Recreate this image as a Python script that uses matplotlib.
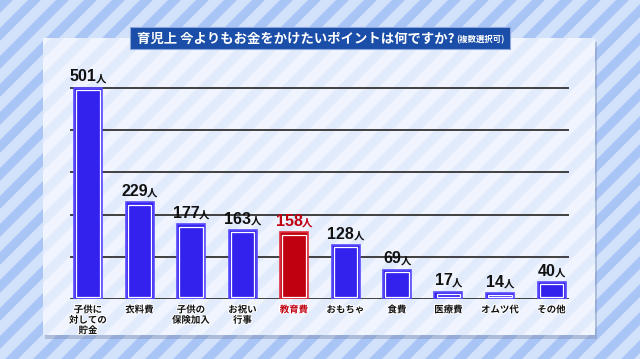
import matplotlib
matplotlib.use("Agg")
import matplotlib.pyplot as plt
import matplotlib.patheffects as pe
from matplotlib.patches import Rectangle, Polygon
from matplotlib.offsetbox import TextArea, HPacker, AnnotationBbox

plt.rcParams["font.family"] = ["Noto Sans CJK JP", "DejaVu Sans"]

# データ
categories = ["子供に\n対しての\n貯金", "衣料費", "子供の\n保険加入", "お祝い\n行事", "教育費",
              "おもちゃ", "食費", "医療費", "オムツ代", "その他"]
values = [501, 229, 177, 163, 158, 128, 69, 17, 14, 40]
highlight = "教育費"
grid_values = [0, 100, 200, 300, 400, 500]
title_main = "育児上 今よりもお金をかけたいポイントは何ですか?"
title_sub = "(複数選択可)"
unit = "人"

W, H = 640, 359
BLUE = "#3322ee"
BLUE_EDGE = "#5a4cff"
RED = "#c00010"
RED_EDGE = "#e03040"


def stripes(ax, x0, y0, x1, y1, period, width, color, offset=0.0, zorder=1):
    # 右上がりの斜めストライプを矩形内に描く
    h = y1 - y0
    clip = Rectangle((x0, y0), x1 - x0, h, transform=ax.transData)
    k = x0 - h - period + offset
    while k < x1 + period:
        poly = Polygon([(k, y1), (k + width, y1), (k + width + h, y0), (k + h, y0)],
                       closed=True, facecolor=color, edgecolor="none", zorder=zorder)
        ax.add_patch(poly)
        poly.set_clip_path(clip)
        k += period


fig = plt.figure(figsize=(W / 100, H / 100), dpi=100)
bg = fig.add_axes([0, 0, 1, 1])
bg.set_xlim(0, W)
bg.set_ylim(H, 0)
bg.set_axis_off()

# 背景
bg.add_patch(Rectangle((0, 0), W, H, facecolor="#d3e2fb", edgecolor="none", zorder=0))
stripes(bg, 0, 0, W, H, 28, 13, "#a9c5f6", zorder=1)

# パネル（影つき）
px0, py0, px1, py1 = 43, 38, 595, 335
bg.add_patch(Rectangle((px0 + 2, py0 + 4), px1 - px0, py1 - py0, facecolor="#7f8fb0",
                       edgecolor="none", alpha=0.45, zorder=2))
bg.add_patch(Rectangle((px0, py0), px1 - px0, py1 - py0, facecolor="#eff4fe",
                       edgecolor="none", zorder=3))
stripes(bg, px0, py0, px1, py1, 28, 13, "#e2ebfc", offset=8, zorder=4)

# タイトル
bg.add_patch(Rectangle((131, 28), 380, 22, facecolor="#0d2a6a", edgecolor="none", zorder=5))
bg.add_patch(Rectangle((130, 27), 380, 22, facecolor="#1b4ea8", edgecolor="#8aa6dc",
                       linewidth=0.8, zorder=6))
t_main = TextArea(title_main, textprops=dict(color="white", fontsize=9.6, fontweight="bold"))
t_sub = TextArea(title_sub, textprops=dict(color="white", fontsize=6, fontweight="bold"))
tbox = HPacker(children=[t_main, t_sub], align="baseline", pad=0, sep=1)
bg.add_artist(AnnotationBbox(tbox, (137, 38.5), xycoords="data", box_alignment=(0, 0.5),
                             frameon=False, pad=0, zorder=7))

# グラフ
spacing = 51.5
base_y = 299
px_per_unit = (299 - 88) / 500
ax_left, ax_right = 70, 569
y_top_val = 550
ax_top = base_y - y_top_val * px_per_unit
ax = fig.add_axes([ax_left / W, (H - base_y) / H, (ax_right - ax_left) / W, (base_y - ax_top) / H])
ax.set_xlim((ax_left - 88) / spacing, (ax_right - 88) / spacing)
ax.set_ylim(0, y_top_val)
ax.patch.set_alpha(0)
ax.set_axis_off()

for g in grid_values:
    ax.axhline(g, color="#333333", linewidth=1.3, zorder=1)

bar_w = 28 / spacing
dx = 2.2 / spacing
dy = 2.2 / px_per_unit
for i, (cat, v) in enumerate(zip(categories, values)):
    hl = cat == highlight
    fc = RED if hl else BLUE
    ec = RED_EDGE if hl else BLUE_EDGE
    ax.bar(i, v, width=bar_w, color=fc, edgecolor=ec, linewidth=1.2, zorder=3)
    ax.add_patch(Rectangle((i - bar_w / 2 + dx, dy), bar_w - 2 * dx, max(v - 2 * dy, 0.5),
                           facecolor=fc, edgecolor="white", linewidth=0.9, zorder=4))
    col = RED if hl else "#111111"
    n = TextArea(f"{v}", textprops=dict(color=col, fontsize=11.5, fontweight="bold",
                                        family=["Liberation Sans", "DejaVu Sans"]))
    u = TextArea(unit, textprops=dict(color=col, fontsize=7.5, fontweight="bold"))
    box = HPacker(children=[n, u], align="baseline", pad=0, sep=-0.5)
    ax.add_artist(AnnotationBbox(box, (i, v), xybox=(0, 2.5), xycoords="data",
                                 boxcoords="offset points", box_alignment=(0.5, 0),
                                 frameon=False, pad=0, zorder=6,
                                 annotation_clip=False))
    ax.annotate(cat, (i, 0), xytext=(0, -4), textcoords="offset points", ha="center", va="top",
                fontsize=6.8, fontweight="bold", color=RED if hl else "#111111", linespacing=1.05,
                annotation_clip=False,
                path_effects=[pe.withStroke(linewidth=1.5, foreground="white")])

fig.savefig("out.png", dpi=100)
